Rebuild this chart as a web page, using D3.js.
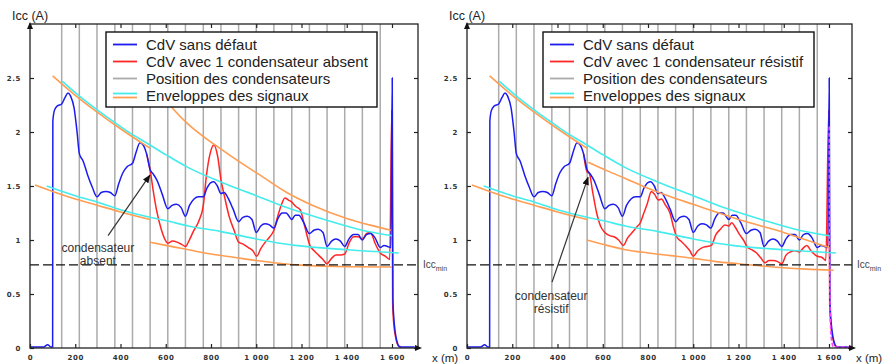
<!DOCTYPE html>
<html>
<head>
<meta charset="utf-8">
<script src="https://cdn.jsdelivr.net/npm/d3@7"></script>
<style>
  body { margin: 0; background: #fff; }
  text { font-family: "Liberation Sans", Arial, sans-serif; }
</style>
</head>
<body>
<div id="okvir"></div>
<script>
// polozaj kondenzatora (m)
const capacitors = [140, 218, 296, 375, 453, 531, 609, 687, 766, 844, 922, 1000, 1078, 1157, 1235, 1313, 1391, 1469, 1548]
const xTicks = [0, 200, 400, 600, 800, 1000, 1200, 1400, 1600]
const yTicks = [0, 0.5, 1, 1.5, 2, 2.5]
const iccMin = 0.77

// CdV sans défaut  [x (m), Icc (A)]
const blue = [[0,0.01],[60,0.01],[78,0.03],[92,0.01],[100,0.01],[101,2.10],[108,2.20],[120,2.24],[140,2.26],[155,2.32],[168,2.36],[180,2.33],[195,2.22],[208,2.00],[218,1.80],[235,1.73],[255,1.60],[275,1.49],[296,1.40],[315,1.44],[335,1.45],[355,1.44],[375,1.41],[392,1.52],[410,1.62],[430,1.68],[453,1.71],[470,1.82],[486,1.90],[500,1.88],[515,1.80],[531,1.65],[545,1.61],[562,1.55],[585,1.42],[609,1.29],[628,1.32],[648,1.33],[668,1.30],[687,1.22],[705,1.32],[725,1.38],[745,1.40],[766,1.40],[782,1.48],[798,1.53],[812,1.54],[828,1.50],[844,1.43],[858,1.44],[875,1.39],[897,1.29],[922,1.17],[941,1.21],[961,1.22],[981,1.19],[1000,1.07],[1020,1.13],[1039,1.15],[1058,1.14],[1078,1.11],[1096,1.20],[1115,1.25],[1132,1.25],[1157,1.19],[1172,1.23],[1188,1.23],[1210,1.16],[1235,1.06],[1255,1.09],[1274,1.10],[1295,1.07],[1313,0.94],[1333,0.99],[1352,1.01],[1372,0.99],[1391,0.94],[1410,1.01],[1430,1.05],[1450,1.05],[1469,1.00],[1487,1.05],[1505,1.06],[1525,1.02],[1548,0.93],[1565,0.95],[1580,0.94],[1595,0.93],[1601,2.50],[1604,0.45],[1608,0.28],[1614,0.15],[1622,0.06],[1635,0.01],[1700,0.01]]

// CdV avec 1 condensateur absent
const redAbsent = [[515,1.80],[531,1.65],[545,1.45],[560,1.27],[580,1.10],[598,1.00],[609,0.97],[630,0.99],[650,0.98],[670,0.96],[687,0.94],[702,0.99],[722,1.08],[745,1.17],[766,1.32],[780,1.60],[796,1.80],[813,1.88],[829,1.78],[844,1.56],[860,1.40],[880,1.22],[902,1.09],[922,0.98],[944,0.96],[965,0.93],[985,0.90],[1002,0.85],[1020,0.92],[1040,0.98],[1060,1.03],[1078,1.09],[1095,1.22],[1110,1.32],[1127,1.39],[1142,1.37],[1157,1.35],[1175,1.31],[1194,1.28],[1215,1.12],[1237,0.95],[1256,0.90],[1275,0.86],[1295,0.82],[1312,0.78],[1333,0.83],[1352,0.86],[1372,0.86],[1391,0.87],[1410,0.97],[1430,1.03],[1450,1.03],[1469,1.01],[1488,1.06],[1505,1.07],[1525,0.97],[1548,0.88],[1570,0.85],[1590,0.82],[1599,2.20],[1603,0.40],[1608,0.22],[1616,0.10],[1628,0.02],[1640,0.01]]

// CdV avec 1 condensateur résistif
const redResistif = [[515,1.80],[531,1.63],[540,1.62],[555,1.45],[573,1.25],[590,1.13],[609,1.07],[630,1.04],[650,1.03],[670,1.00],[691,0.95],[710,1.02],[730,1.07],[750,1.12],[766,1.16],[780,1.24],[796,1.33],[815,1.45],[830,1.42],[846,1.37],[860,1.38],[875,1.33],[897,1.25],[914,1.11],[927,1.03],[945,0.99],[965,0.95],[985,0.90],[1000,0.85],[1020,0.90],[1040,0.93],[1060,0.94],[1080,0.95],[1100,1.05],[1120,1.10],[1140,1.14],[1157,1.13],[1170,1.16],[1185,1.12],[1205,1.05],[1222,1.00],[1237,0.94],[1258,0.91],[1280,0.88],[1300,0.83],[1317,0.79],[1335,0.81],[1355,0.81],[1373,0.80],[1391,0.78],[1410,0.86],[1430,0.89],[1450,0.90],[1469,0.89],[1488,0.93],[1502,0.95],[1520,0.90],[1548,0.85],[1568,0.84],[1586,0.81],[1599,2.20],[1603,0.40],[1608,0.22],[1616,0.10],[1628,0.02],[1640,0.01]]
const magentaResistif = [[1601,2.05],[1602,1.2],[1604,0.5],[1607,0.2],[1612,0.06],[1620,0.01],[1700,0.01]]

// anvelope
const cyanUpper = [[143,2.47],[220,2.33],[300,2.20],[380,2.08],[450,1.98],[530,1.88],[600,1.79],[700,1.67],[840,1.54],[1000,1.41],[1135,1.30],[1300,1.19],[1450,1.10],[1600,1.04]]
const cyanLower = [[74,1.50],[200,1.41],[300,1.35],[400,1.28],[530,1.21],[600,1.18],[700,1.13],[840,1.08],[1000,1.01],[1172,0.95],[1400,0.91],[1630,0.88]]
const orangeUpper1 = [[100,2.52],[200,2.34],[300,2.18],[400,2.03],[486,1.91],[531,1.85]]
const orangeLower1 = [[22,1.51],[100,1.45],[200,1.38],[300,1.32],[400,1.26],[531,1.19]]
const orangeUpperAbsent = [[560,2.40],[626,2.23],[700,2.07],[818,1.88],[900,1.76],[1039,1.57],[1135,1.44],[1250,1.32],[1400,1.20],[1500,1.14],[1595,1.09]]
const orangeLowerAbsent = [[531,0.98],[600,0.95],[700,0.91],[800,0.87],[900,0.84],[1000,0.81],[1100,0.785],[1200,0.767],[1300,0.758],[1400,0.753],[1600,0.75]]
const orangeUpperResistif = [[536,1.72],[620,1.64],[700,1.57],[800,1.48],[900,1.40],[1000,1.33],[1100,1.26],[1200,1.19],[1300,1.13],[1400,1.07],[1500,1.00],[1600,0.93]]
const orangeLowerResistif = [[529,1.00],[600,0.96],[700,0.91],[800,0.88],[900,0.855],[1000,0.83],[1100,0.80],[1200,0.78],[1354,0.75],[1500,0.73],[1620,0.72]]

const boje = { blue: "#1c1cf0", red: "#ff2626", grey: "#ababab", cyan: "#45ecec", orange: "#ff9d52", magenta: "#ff40ff" }

const paneli = [
  {
    left: 30, right: 418, xLabelX: 432,
    red: redAbsent, redLabel: "CdV avec 1 condensateur absent",
    orangeUpper: orangeUpperAbsent, orangeLower: orangeLowerAbsent,
    note: ["condensateur", "absent"], noteX: 300, noteY: [0.89, 0.765],
    arrow: [[345, 1.04], [530, 1.60]], extra: null
  },
  {
    left: 467, right: 852, xLabelX: 856,
    red: redResistif, redLabel: "CdV avec 1 condensateur résistif",
    orangeUpper: orangeUpperResistif, orangeLower: orangeLowerResistif,
    note: ["condensateur", "résistif"], noteX: 372, noteY: [0.445, 0.32],
    arrow: [[376, 0.61], [535, 1.58]], extra: magentaResistif
  }
]

const okvir = d3.select("#okvir").append("svg")
  .attr("width", 883)
  .attr("height", 364)

const defs = okvir.append("defs")
defs.append("marker")
  .attr("id", "strelica")
  .attr("viewBox", "0 0 10 10")
  .attr("refX", 9).attr("refY", 5)
  .attr("markerWidth", 7).attr("markerHeight", 7)
  .attr("orient", "auto")
  .append("path")
  .attr("d", "M0,1 L10,5 L0,9 z")
  .attr("fill", "#111")

const fmt = d3.formatLocale({ decimal: ".", thousands: " ", grouping: [3], currency: ["", ""] }).format(",")

function crtajPanel(p) {
  const xSkala = d3.scaleLinear().domain([0, 1600]).range([p.left, p.left + 362])
  const ySkala = d3.scaleLinear().domain([0, 3]).range([348, 24])
  const top = ySkala(3), bottom = ySkala(0)

  const linija = d3.line()
    .x(d => xSkala(d[0]))
    .y(d => ySkala(d[1]))
    .curve(d3.curveMonotoneX)

  const g = okvir.append("g")

  // kondenzatori
  g.selectAll(".cap")
    .data(capacitors)
    .join("line")
    .attr("class", "cap")
    .attr("x1", d => xSkala(d)).attr("x2", d => xSkala(d))
    .attr("y1", top).attr("y2", bottom)
    .attr("stroke", boje.grey)
    .attr("stroke-width", 1.5)

  // krivulje
  g.append("path").attr("d", linija(p.red))
    .attr("fill", "none").attr("stroke", boje.red).attr("stroke-width", 1.5)
  g.append("path").attr("d", linija(blue))
    .attr("fill", "none").attr("stroke", boje.blue).attr("stroke-width", 1.5)
  if (p.extra) {
    g.append("path").attr("d", linija(p.extra))
      .attr("fill", "none").attr("stroke", boje.magenta).attr("stroke-width", 1.5)
      .attr("stroke-dasharray", "4,2")
  }

  // anvelope
  const anvelope = [
    [orangeUpper1, boje.orange], [orangeLower1, boje.orange],
    [p.orangeUpper, boje.orange], [p.orangeLower, boje.orange],
    [cyanUpper, boje.cyan], [cyanLower, boje.cyan]
  ]
  g.selectAll(".env")
    .data(anvelope)
    .join("path")
    .attr("class", "env")
    .attr("d", d => linija(d[0]))
    .attr("fill", "none")
    .attr("stroke", d => d[1])
    .attr("stroke-width", 1.6)

  // Icc min
  g.append("line")
    .attr("x1", p.left).attr("x2", p.right)
    .attr("y1", ySkala(iccMin)).attr("y2", ySkala(iccMin))
    .attr("stroke", "#111").attr("stroke-width", 1.3)
    .attr("stroke-dasharray", "9,4")
  const lab = g.append("text")
    .attr("x", p.right + 5).attr("y", ySkala(iccMin) + 3)
    .attr("font-size", 10).attr("fill", "#444")
  lab.append("tspan").text("Icc")
  lab.append("tspan").attr("font-size", 7).attr("dy", 3).text("min")

  // napomena
  g.selectAll(".note")
    .data(p.note)
    .join("text")
    .attr("class", "note")
    .attr("x", xSkala(p.noteX))
    .attr("y", (d, i) => ySkala(p.noteY[i]))
    .attr("text-anchor", "middle")
    .attr("font-size", 12)
    .attr("fill", "#333")
    .text(d => d)
  g.append("line")
    .attr("x1", xSkala(p.arrow[0][0])).attr("y1", ySkala(p.arrow[0][1]))
    .attr("x2", xSkala(p.arrow[1][0])).attr("y2", ySkala(p.arrow[1][1]))
    .attr("stroke", "#333").attr("stroke-width", 1.2)
    .attr("marker-end", "url(#strelica)")

  // legenda
  const legendData = [
    { name: "CdV sans défaut", colors: [boje.blue] },
    { name: p.redLabel, colors: [boje.red] },
    { name: "Position des condensateurs", colors: [boje.grey] },
    { name: "Enveloppes des signaux", colors: [boje.cyan, boje.orange] }
  ]
  const lx = p.left + 76
  const legend = g.append("g")
  legend.append("rect")
    .attr("x", lx).attr("y", 32)
    .attr("width", 271).attr("height", 75)
    .attr("fill", "#fff").attr("stroke", "#111").attr("stroke-width", 1.4)
  legend.selectAll("g")
    .data(legendData)
    .join("g")
    .each(function (d, i) {
      const red = d3.select(this)
      const yy = 44.5 + i * 17
      d.colors.forEach((c, j) => {
        const off = d.colors.length > 1 ? (j === 0 ? -2 : 2) : 0
        red.append("line")
          .attr("x1", lx + 7).attr("x2", lx + 31)
          .attr("y1", yy + off).attr("y2", yy + off)
          .attr("stroke", c).attr("stroke-width", 1.8)
      })
      red.append("text")
        .attr("x", lx + 40).attr("y", yy + 5)
        .attr("font-size", 15).attr("fill", "#222")
        .text(d.name)
    })

  // osi
  const xOs = g.append("g")
    .attr("transform", `translate(0,${bottom})`)
    .call(d3.axisBottom(xSkala).tickValues(xTicks).tickSizeInner(-4).tickSizeOuter(0).tickPadding(7).tickFormat(fmt))
  const xGore = g.append("g")
    .attr("transform", `translate(0,${top})`)
    .call(d3.axisTop(xSkala).tickValues(xTicks).tickSizeInner(-4).tickSizeOuter(0).tickFormat(""))
  const yOs = g.append("g")
    .attr("transform", `translate(${p.left},0)`)
    .call(d3.axisLeft(ySkala).tickValues(yTicks).tickSizeInner(-4).tickSizeOuter(0).tickPadding(9).tickFormat(d3.format("~g")))
  const yDesno = g.append("g")
    .attr("transform", `translate(${p.right},0)`)
    .call(d3.axisRight(ySkala).tickValues(yTicks).tickSizeInner(-4).tickSizeOuter(0).tickFormat(""))

  ;[xOs, xGore, yOs, yDesno].forEach(os => {
    os.select(".domain").remove()
    os.selectAll("line").attr("stroke", "#222").attr("stroke-width", 1.2)
    os.selectAll("text")
      .attr("fill", "#333")
      .style("font-family", "'DejaVu Sans', sans-serif")
      .style("font-size", "7px")
      .style("font-weight", "bold")
      .style("letter-spacing", "0.6px")
  })

  g.append("rect")
    .attr("x", p.left).attr("y", top)
    .attr("width", p.right - p.left).attr("height", bottom - top)
    .attr("fill", "none").attr("stroke", "#222").attr("stroke-width", 1.3)
  g.append("path")
    .attr("d", `M${p.left - 3},${top + 5} L${p.left},${top - 2} L${p.left + 3},${top + 5} z`)
    .attr("fill", "#111")
  g.append("path")
    .attr("d", `M${p.right - 3},${bottom - 3} L${p.right + 4},${bottom} L${p.right - 3},${bottom + 3} z`)
    .attr("fill", "#111")

  g.append("text")
    .attr("x", p.left - 18).attr("y", 20)
    .attr("font-size", 12.5).attr("fill", "#222")
    .text("Icc (A)")
  g.append("text")
    .attr("x", p.xLabelX).attr("y", 362)
    .attr("font-size", 11.5).attr("fill", "#222")
    .text("x (m)")
}

paneli.forEach(crtajPanel)
</script>
</body>
</html>
